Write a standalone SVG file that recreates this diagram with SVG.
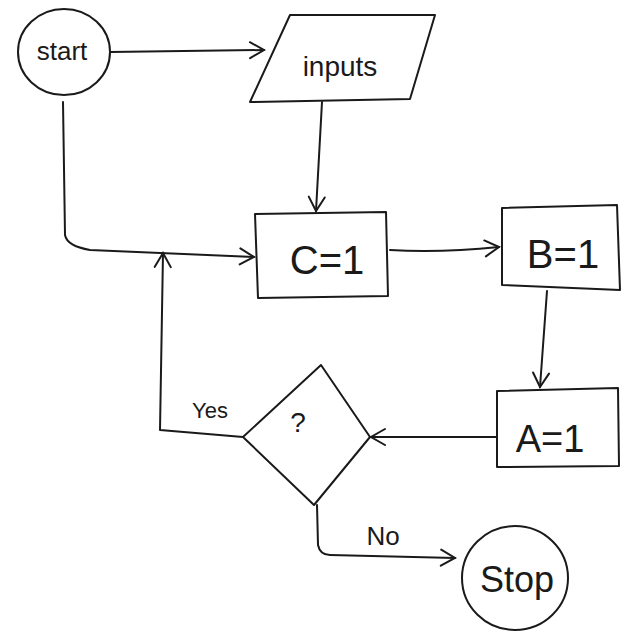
<svg xmlns="http://www.w3.org/2000/svg" width="640" height="640" viewBox="0 0 640 640">
<style>
.s{fill:none;stroke:#1a1a1a;stroke-width:2;stroke-linecap:round;stroke-linejoin:round}
.t{font-family:"Liberation Sans","DejaVu Sans",sans-serif;fill:#1a1a1a;text-anchor:middle;font-weight:300}
</style>
<defs>
<marker id="a" viewBox="0 0 20 20" refX="18" refY="10" markerWidth="20" markerHeight="20" markerUnits="userSpaceOnUse" orient="auto">
<path d="M4,2 L18,10 L4,18" fill="none" stroke="#1a1a1a" stroke-width="2" stroke-linecap="round"/>
</marker>
</defs>
<rect width="640" height="640" fill="#fff"/>
<g id="connectors">
<path class="s" d="M110,52 L264,50" marker-end="url(#a)"/>
<path class="s" d="M322,102 L316,211" marker-end="url(#a)"/>
<path class="s" d="M63,102 L65,235 Q67,246 90,250 L254,257" marker-end="url(#a)"/>
<path class="s" d="M390,250 Q440,253 499,247" marker-end="url(#a)"/>
<path class="s" d="M547,291 L540,387" marker-end="url(#a)"/>
<path class="s" d="M497,437 L371,437" marker-end="url(#a)"/>
<path class="s" d="M243,437 L160,430 L163,253" marker-end="url(#a)"/>
<path class="s" d="M317,505 L318,545 Q320,555 330,555 L455,558" marker-end="url(#a)"/>
</g>
<g id="start">
<ellipse class="s" cx="64" cy="52" rx="46" ry="43"/>
<text class="t" x="62" y="60" font-size="26">start</text>
</g>
<g id="inputs">
<path class="s" d="M290,15 L435,15 L410,99 L250,102 Z"/>
<text class="t" x="340" y="76" font-size="28">inputs</text>
</g>
<g id="c1">
<path class="s" d="M255,214 L386,212 L388,296 L258,298 Z"/>
<text class="t" x="327" y="274" font-size="40">C=1</text>
</g>
<g id="b1">
<path class="s" d="M502,208 L617,205 L620,290 L502,285 Z"/>
<text class="t" x="563" y="268" font-size="40">B=1</text>
</g>
<g id="a1">
<path class="s" d="M497,391 L618,388 L619,466 L497,467 Z"/>
<text class="t" x="550" y="452" font-size="38">A=1</text>
</g>
<g id="decision">
<path class="s" d="M321,365 L370,437 L314,505 L243,437 Z"/>
<text class="t" x="298" y="432" font-size="28">?</text>
</g>
<g id="stop">
<ellipse class="s" cx="515" cy="578" rx="53" ry="52"/>
<text class="t" x="517" y="592" font-size="36">Stop</text>
</g>
<g id="labels">
<text class="t" x="210" y="418" font-size="22">Yes</text>
<text class="t" x="383" y="545" font-size="26">No</text>
</g>
</svg>
